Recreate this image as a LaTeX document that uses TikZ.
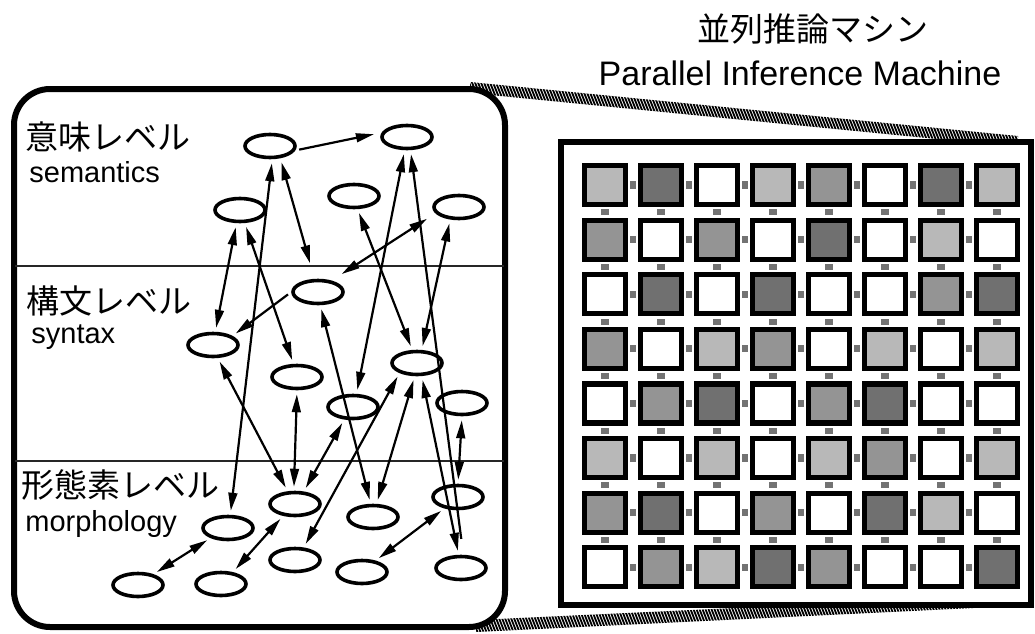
\documentclass[tikz,border=0pt]{standalone}
\usepackage{fontspec}
\setmainfont{Liberation Sans}
\newfontfamily\jpfont{Noto Sans CJK JP}
\usetikzlibrary{arrows.meta,shapes.geometric}
\definecolor{shade0}{gray}{1}
\definecolor{shade1}{gray}{0.72}
\definecolor{shade2}{gray}{0.58}
\definecolor{shade3}{gray}{0.44}

\begin{document}
\begin{tikzpicture}[x=0.5pt,y=-0.5pt,
  e/.style={ellipse,draw,line width=1.8pt,minimum width=25pt,minimum height=11.5pt,inner sep=0pt},
  a/.style={-{Triangle[length=9pt,width=4.4pt]},line width=1.1pt,shorten >=2pt,shorten <=2pt},
  aa/.style={a,{Triangle[length=9pt,width=4.4pt]}-{Triangle[length=9pt,width=4.4pt]}},
  pe/.style={draw,line width=2.6pt,minimum width=20.5pt,minimum height=19.5pt,inner sep=0pt},
  lk/.style={fill=black!55,minimum width=3.2pt,minimum height=3.6pt,inner sep=0pt},
  jp/.style={font=\jpfont\fontsize{16.5pt}{18pt}\selectfont,inner sep=0pt},
  en/.style={font=\fontsize{14.5pt}{17pt}\selectfont,inner sep=0pt},
  hatch/.style={line width=0.9pt}
]
  \useasboundingbox (0,0) rectangle (1035,633);
  \begin{scope}
    \clip (470,82) -- (1018,136) -- (1018,147) -- (470,93) -- cycle;
    \foreach \x in {400,403,...,1040} \draw[hatch] (\x,60) -- ++(40,100);
  \end{scope}
  \begin{scope}
    \clip (476,620) -- (1015,595) -- (1015,606) -- (476,632) -- cycle;
    \foreach \x in {400,403,...,1040} \draw[hatch] (\x,580) -- ++(26,66);
  \end{scope}
  \draw[line width=3pt,rounded corners=18pt,fill=white] (14,89) rectangle (505,627);
  \draw[line width=3.2pt,fill=white] (561,142) rectangle (1031,605);
  \draw[line width=0.8pt,black!85] (15,266) -- (504,266);
  \draw[line width=0.8pt,black!85] (15,461) -- (504,461);

  \node[jp,anchor=base] (pimJp) at (813,41) {並列推論マシン};
  \node[en,anchor=base,font=\fontsize{17pt}{20pt}\selectfont] (pimEn) at (800,85) {Parallel Inference Machine};
  \node[jp,anchor=west] (semJp) at (25,137) {意味レベル};
  \node[en,anchor=base west] (semEn) at (29,182) {semantics};
  \node[jp,anchor=west] (synJp) at (26,301) {構文レベル};
  \node[en,anchor=base west] (synEn) at (31,343) {syntax};
  \node[jp,anchor=west] (morJp) at (21,485) {形態素レベル};
  \node[en,anchor=base west] (morEn) at (25,531) {morphology};

  \node[e] (s1) at (270,146) {};
  \node[e] (s2) at (407,137) {};
  \node[e] (s3) at (240,210) {};
  \node[e] (s4) at (354,196) {};
  \node[e] (s5) at (459,207) {};
  \node[e] (y1) at (318,292) {};
  \node[e] (y2) at (213,345) {};
  \node[e] (y3) at (297,377) {};
  \node[e] (y4) at (417,363) {};
  \node[e] (y5) at (353,407) {};
  \node[e] (y6) at (462,403) {};
  \node[e] (m1) at (295,504) {};
  \node[e] (m2) at (228,528) {};
  \node[e] (m3) at (373,517) {};
  \node[e] (m4) at (458,497) {};
  \node[e] (m5) at (138,585) {};
  \node[e] (m6) at (221,584) {};
  \node[e] (m7) at (295,560) {};
  \node[e] (m8) at (362,572) {};
  \node[e] (m9) at (461,568) {};

  \draw[a,shorten >=4pt] (s1.-10) -- (s2.170);
  \draw[aa] (s1.-80) -- (m2.80);
  \draw[aa,shorten >=8pt] (s1.-50) -- (y1.105);
  \draw[aa] (s3.-105) -- (y2.80);
  \draw[aa] (s3.-70) -- (y3.105);
  \draw[aa] (s4.-75) -- (y4.110);
  \draw[aa] (s2.-100) -- (y5.75);
  \draw[aa] (s5.-125) -- (y4.70);
  \draw[aa,shorten <=5pt,shorten >=6pt] (s5.195) -- (y1.40);
  \draw[a,shorten <=8pt] (m9.80) -- (s2.-75);
  \draw[a] (y1.west) -- (y2.25);
  \draw[aa] (y1.-80) -- (m3.100);
  \draw[aa] (y2.-70) -- (m1.120);
  \draw[aa] (y3.-90) -- (m1.95);
  \draw[aa] (y5.-125) -- (m1.55);
  \draw[aa] (y4.210) -- (m7.55);
  \draw[aa] (y4.-100) -- (m3.75);
  \draw[aa] (y4.-70) -- (m9.100);
  \draw[aa] (y6.-90) -- (m4.90);
  \draw[aa] (m5.35) -- (m2.210);
  \draw[aa] (m6.45) -- (m1.225);
  \draw[aa] (m8.40) -- (m4.220);

  \foreach \row [count=\r] in {{1,3,0,1,2,0,3,1},{2,0,2,0,3,0,1,0},{0,3,0,3,0,0,2,3},{2,0,1,2,0,1,0,1},
                               {0,2,3,0,2,3,0,0},{1,0,1,0,1,2,0,1},{2,3,0,2,0,3,1,0},{0,2,1,3,2,0,0,3}}
    \foreach \v [count=\c] in \row
      \node[pe,fill=shade\v] (pe-\r-\c) at ({605+56*(\c-1)},{185+54.6*(\r-1)}) {};
  \foreach \r in {1,...,8}
    \foreach \c in {1,...,7}
      \node[lk] (lh-\r-\c) at ({633+56*(\c-1)},{185+54.6*(\r-1)}) {};
  \foreach \r in {1,...,7}
    \foreach \c in {1,...,8}
      \node[lk,minimum width=3.6pt,minimum height=3pt] (lv-\r-\c) at ({605+56*(\c-1)},{212.3+54.6*(\r-1)}) {};
\end{tikzpicture}
\end{document}
